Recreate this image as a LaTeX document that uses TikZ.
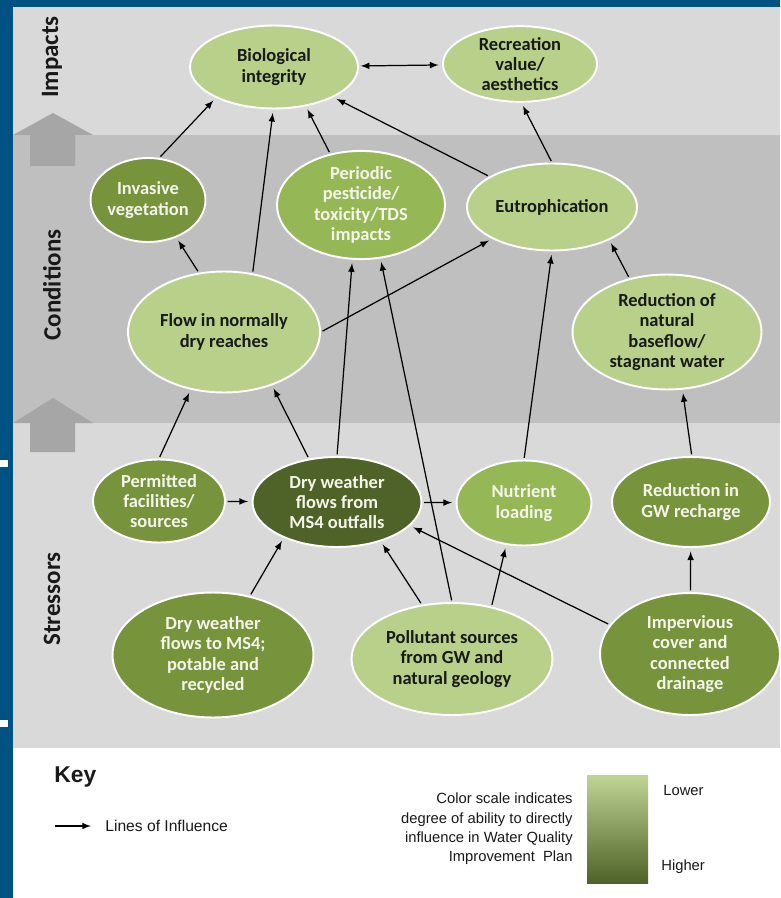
\documentclass[tikz,border=0pt]{standalone}
\usepackage{fontspec}
\setmainfont{Carlito}
\newfontfamily\keyfont{Liberation Sans}
\usepackage{tikz}
\usetikzlibrary{shapes.geometric}

\definecolor{frameblue}{RGB}{0,82,130}
\definecolor{bandlight}{RGB}{217,217,217}
\definecolor{banddark}{RGB}{191,191,191}
\definecolor{bandarrow}{RGB}{166,166,166}
\definecolor{greenA}{RGB}{184,208,137}
\definecolor{greenB}{RGB}{150,183,85}
\definecolor{greenC}{RGB}{119,147,60}
\definecolor{greenD}{RGB}{79,98,40}
\definecolor{inkdark}{RGB}{25,25,25}
\definecolor{inklight}{RGB}{245,245,235}

\begin{document}
\begin{tikzpicture}[x=0.02cm, y=-0.02cm, >=latex,
  factor/.style={ellipse, draw=white, line width=1.1pt, inner sep=0pt, align=center,
    font=\fontsize{10.5}{11.5}\selectfont\bfseries},
  lowinf/.style={factor, fill=greenA, text=inkdark},
  midinf/.style={factor, fill=greenB, text=inklight},
  highinf/.style={factor, fill=greenC, text=inklight},
  topinf/.style={factor, fill=greenD, text=inklight},
  influence/.style={->, line width=0.7pt, shorten <=1pt, shorten >=2pt},
  bandlabel/.style={rotate=90, text=inkdark, font=\fontsize{14.2}{16}\selectfont\bfseries},
  keytext/.style={text=inkdark, inner sep=0pt, font=\keyfont\fontsize{8.4}{11}\selectfont}]

\useasboundingbox (0,0) rectangle (780,898);

% Frame and bands
\fill[frameblue] (0,0) rectangle (780,898);
\fill[bandlight] (13,7) rectangle (780,135);
\fill[banddark] (13,135) rectangle (780,423);
\fill[bandlight] (13,423) rectangle (780,748);
\fill[white] (13,748) rectangle (780,898);
\fill[white] (0,460) rectangle (8,467);
\fill[white] (0,720) rectangle (8,727);

% Level arrows
\fill[bandarrow] (53,113) -- (93,135) -- (75,135) -- (75,166) -- (30,166) -- (30,135) -- (13,135) -- cycle;
\fill[bandarrow] (53,398) -- (93,423) -- (75,423) -- (75,452) -- (30,452) -- (30,423) -- (13,423) -- cycle;

\node[bandlabel] (implabel) at (52,57) {Impacts};
\node[bandlabel] (condlabel) at (52,285) {Conditions};
\node[bandlabel] (stresslabel) at (52,599) {Stressors};

% Impacts
\node[lowinf, minimum width=3.36cm, minimum height=1.66cm] (bio) at (274,67) {Biological\\integrity};
\node[lowinf, minimum width=3.08cm, minimum height=1.5cm] (rec) at (520,64) {Recreation\\value/\\aesthetics};

% Conditions
\node[highinf, minimum width=2.24cm, minimum height=1.68cm] (inv) at (148,200) {Invasive\\vegetation};
\node[midinf, minimum width=3.36cm, minimum height=1.92cm] (pest) at (361,205) {Periodic\\pesticide/\\toxicity/TDS\\impacts};
\node[lowinf, minimum width=3.4cm, minimum height=1.74cm] (eutro) at (552,207) {Eutrophication};
\node[lowinf, minimum width=3.84cm, minimum height=2.42cm] (dryflow) at (224,332) {Flow in normally\\dry reaches};
\node[lowinf, minimum width=3.78cm, minimum height=2.3cm] (baseflow) at (667,332) {Reduction of\\natural\\baseflow/\\stagnant water};

% Stressors
\node[highinf, minimum width=2.64cm, minimum height=1.66cm] (permit) at (159,501) {Permitted\\facilities/\\sources};
\node[topinf, minimum width=3.38cm, minimum height=1.8cm] (outfall) at (337,502) {Dry weather\\flows from\\MS4 outfalls};
\node[midinf, minimum width=2.7cm, minimum height=1.7cm] (nutrient) at (524,503) {Nutrient\\loading};
\node[highinf, minimum width=3.16cm, minimum height=1.8cm] (recharge) at (691,502) {Reduction in\\GW recharge};
\node[highinf, minimum width=4.02cm, minimum height=2.5cm] (inflow) at (213,655) {Dry weather\\flows to MS4;\\potable and\\recycled};
\node[lowinf, minimum width=4.02cm, minimum height=2.24cm] (geology) at (452,659) {Pollutant sources\\from GW and\\natural geology};
\node[highinf, minimum width=3.6cm, minimum height=2.44cm] (imperv) at (690,654) {Impervious\\cover and\\connected\\drainage};

% Lines of influence
\draw[influence] (inv.75) -- (bio.208);
\draw[influence] (dryflow.113) -- (inv.307);
\draw[influence] (dryflow.64) -- (bio.269);
\draw[influence] (pest.121) -- (bio.309);
\draw[influence] (eutro.154) -- (bio.333);
\draw[influence, <->] (bio) -- (rec);
\draw[influence] (eutro.90) -- (rec.272);
\draw[influence] (dryflow.0) -- (eutro.208);
\draw[influence] (baseflow.125) -- (eutro.330);
\draw[influence] (nutrient.90) -- (eutro.270);
\draw[influence] (permit.90) -- (dryflow.240);
\draw[influence] (outfall.123) -- (dryflow.312);
\draw[influence] (outfall.90) -- (pest.261);
\draw[influence] (geology.90) -- (pest.290);
\draw[influence] (permit) -- (outfall);
\draw[influence] (outfall) -- (nutrient);
\draw[influence] (inflow.58) -- (outfall.214);
\draw[influence] (geology.119) -- (outfall.318);
\draw[influence] (geology.53) -- (nutrient.247);
\draw[influence] (imperv.160) -- (outfall.342);
\draw[influence] (imperv) -- (recharge);
\draw[influence] (recharge.89) -- (baseflow.285);

% Key
\node[anchor=west, inner sep=0pt, text=inkdark, font=\keyfont\bfseries\fontsize{13}{15}\selectfont] (keytitle) at (54,777) {Key};
\coordinate (keytail) at (55,826);
\coordinate (keyhead) at (91,826);
\draw[->, line width=0.7pt] (keytail) -- (keyhead);
\node[keytext, anchor=west, font=\keyfont\fontsize{8.9}{11}\selectfont] (keyline) at (105,826) {Lines of Influence};
\node[keytext, anchor=east, align=right] (scaletext) at (573,829) {Color scale indicates\\degree of ability to directly\\influence in Water Quality\\Improvement\ \ Plan};
\node[minimum width=1.22cm, minimum height=2.16cm, inner sep=0pt, top color=greenA!90!white, bottom color=greenD] (scalebar) at (617.5,829) {};
\node[keytext, anchor=west] (lowlabel) at (663,790) {Lower};
\node[keytext, anchor=west] (highlabel) at (661,867) {Higher};

\end{tikzpicture}
\end{document}
